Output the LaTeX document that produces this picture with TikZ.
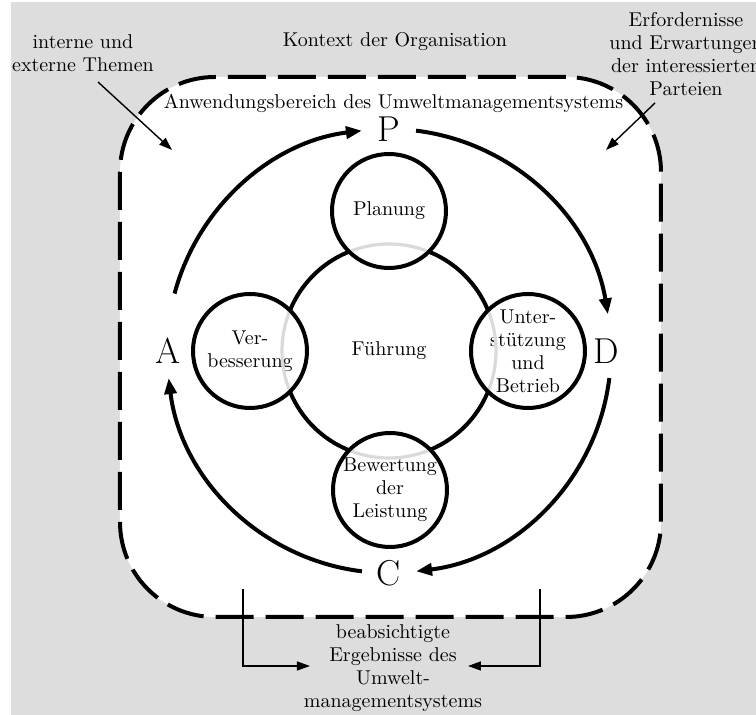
\documentclass[tikz,border=0pt]{standalone}
\usepackage{tikz}
\usetikzlibrary{arrows.meta,positioning}
\definecolor{kontextgrau}{RGB}{221,221,221}
\definecolor{ringgrau}{RGB}{218,218,218}

\begin{document}
\begin{tikzpicture}[
    x=0.5pt, y=0.5pt,
    every node/.style={font=\fontsize{10}{11.5}\selectfont},
    feld/.style={circle, draw, line width=2pt, fill=white, minimum size=57pt, inner sep=0pt, align=center},
    pdca/.style={font=\fontsize{18}{18}\selectfont},
    zyklus/.style={line width=2pt, -{Triangle[length=8pt,width=6pt]}},
    hinweis/.style={line width=0.7pt, -{Triangle[length=6.5pt,width=4.5pt]}},
    ring/.style={draw=ringgrau, line width=1.6pt}
]
    \useasboundingbox (-389,-364) rectangle (367,351);

    % Kontext der Organisation
    \fill[kontextgrau] (-378,-364) rectangle (367,349);
    \node[draw, line width=2pt, dash pattern=on 19pt off 6pt, fill=white, rounded corners=47.5pt,
          minimum width=270.5pt, minimum height=270pt] (bereich) at (1.5,4) {};

    % Fuehrung
    \node[circle, draw, line width=2pt, minimum size=107pt] (fuehrung) at (0,0) {Führung};

    % Handlungsfelder
    \node[feld] (planung) at (0,140) {Planung};
    \node[feld] (unterstuetzung) at (139,0) {Unter-\\stützung\\und\\Betrieb};
    \node[feld] (bewertung) at (1,-139) {Bewertung\\der\\Leistung};
    \node[feld] (verbesserung) at (-139,0) {Ver-\\besserung};

    % grauer Ring in den Feldern
    \foreach \n in {planung, unterstuetzung, bewertung, verbesserung} {
        \begin{scope}
            \clip (\n) circle[radius=27.4pt];
            \draw[ring] (fuehrung) circle[radius=53.5pt];
        \end{scope}
    }

    % PDCA
    \node[pdca] (P) at (90:222) {P};
    \node[pdca] (D) at (0:217) {D};
    \node[pdca] (C) at (270:222) {C};
    \node[pdca] (A) at (180:221) {A};
    \draw[zyklus] ([shift={(83:222)}]fuehrung.center) arc[start angle=83, end angle=9.5, radius=111pt];
    \draw[zyklus] ([shift={(-7:222)}]fuehrung.center) arc[start angle=-7, end angle=-83, radius=111pt];
    \draw[zyklus] ([shift={(-97:222)}]fuehrung.center) arc[start angle=-97, end angle=-173, radius=111pt];
    \draw[zyklus] ([shift={(165:222)}]fuehrung.center) arc[start angle=165, end angle=97, radius=111pt];

    % Texte
    \node (kontext) at (6,309) {Kontext der Organisation};
    \node (anwendung) at (4.5,248) {Anwendungsbereich des Umweltmanagementsystems};
    \node[align=center] (themen) at (-306,298) {interne und\\externe Themen};
    \node[align=center] (erfordernisse) at (297,297) {Erfordernisse\\und Erwartungen\\der interessierten\\Parteien};
    \node[align=center] (ergebnisse) at (4,-317) {beabsichtigte\\Ergebnisse des\\Umwelt-\\managementsystems};

    % Einfluesse
    \coordinate (themen-start) at (-291,269);
    \coordinate (themen-ziel) at (-217,201);
    \coordinate (erf-start) at (266,248);
    \coordinate (erf-ziel) at (217,201);
    \draw[hinweis] (themen-start) -- (themen-ziel);
    \draw[hinweis] (erf-start) -- (erf-ziel);

    % Ergebnisse
    \coordinate (links-oben) at (-146,-238);
    \coordinate (links-ziel) at (-79,-315);
    \coordinate (rechts-oben) at (151,-238);
    \coordinate (rechts-ziel) at (79,-315);
    \draw[hinweis] (links-oben) |- (links-ziel);
    \draw[hinweis] (rechts-oben) |- (rechts-ziel);
\end{tikzpicture}
\end{document}
